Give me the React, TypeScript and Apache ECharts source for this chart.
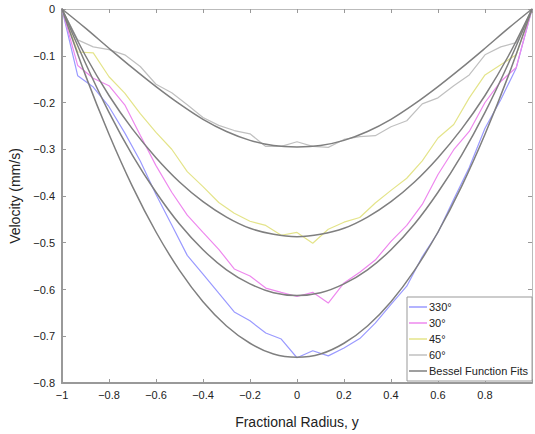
import React, { useEffect, useRef } from "react";
import * as echarts from "echarts";

const radius = [-1, -0.933, -0.867, -0.8, -0.733, -0.667, -0.6, -0.533, -0.467, -0.4, -0.333, -0.267, -0.2, -0.133, -0.067, 0, 0.067, 0.133, 0.2, 0.267, 0.333, 0.4, 0.467, 0.533, 0.6, 0.667, 0.733, 0.8, 0.867, 0.933, 1];

const v330 = [0, -0.143, -0.167, -0.209, -0.265, -0.325, -0.397, -0.462, -0.527, -0.567, -0.608, -0.648, -0.667, -0.693, -0.706, -0.746, -0.731, -0.742, -0.725, -0.705, -0.672, -0.632, -0.593, -0.53, -0.478, -0.407, -0.339, -0.255, -0.194, -0.126, 0];
const v30 = [0, -0.121, -0.148, -0.164, -0.205, -0.27, -0.335, -0.392, -0.441, -0.478, -0.514, -0.556, -0.571, -0.597, -0.606, -0.615, -0.606, -0.629, -0.586, -0.563, -0.537, -0.497, -0.463, -0.418, -0.354, -0.301, -0.262, -0.2, -0.155, -0.125, 0];
const v45 = [0, -0.092, -0.094, -0.145, -0.18, -0.224, -0.264, -0.3, -0.348, -0.38, -0.414, -0.437, -0.454, -0.463, -0.484, -0.478, -0.501, -0.471, -0.456, -0.446, -0.415, -0.388, -0.362, -0.325, -0.276, -0.247, -0.19, -0.141, -0.119, -0.098, 0];
const v60 = [0, -0.066, -0.081, -0.087, -0.098, -0.123, -0.161, -0.179, -0.205, -0.232, -0.249, -0.26, -0.267, -0.294, -0.294, -0.284, -0.294, -0.296, -0.279, -0.273, -0.271, -0.252, -0.239, -0.203, -0.19, -0.164, -0.141, -0.098, -0.081, -0.072, 0];

const fitRadius = [-1, -0.9, -0.8, -0.7, -0.6, -0.5, -0.4, -0.3, -0.2, -0.1, 0, 0.1, 0.2, 0.3, 0.4, 0.5, 0.6, 0.7, 0.8, 0.9, 1];
const fit330 = [0, -0.142, -0.268, -0.38, -0.477, -0.559, -0.626, -0.678, -0.715, -0.738, -0.745, -0.738, -0.715, -0.678, -0.626, -0.559, -0.477, -0.38, -0.268, -0.142, 0];
const fit30 = [0, -0.116, -0.221, -0.313, -0.392, -0.46, -0.515, -0.558, -0.588, -0.607, -0.613, -0.607, -0.588, -0.558, -0.515, -0.46, -0.392, -0.313, -0.221, -0.116, 0];
const fit45 = [0, -0.1, -0.185, -0.257, -0.318, -0.37, -0.412, -0.445, -0.469, -0.482, -0.487, -0.482, -0.469, -0.445, -0.412, -0.37, -0.318, -0.257, -0.185, -0.1, 0];
const fit60 = [0, -0.041, -0.084, -0.126, -0.166, -0.203, -0.236, -0.262, -0.281, -0.292, -0.295, -0.292, -0.281, -0.262, -0.236, -0.203, -0.166, -0.126, -0.084, -0.041, 0];

const seriesNames = ["330°", "30°", "45°", "60°"];
const seriesColors = ["#9a9aff", "#ee88ee", "#e4e48a", "#c0c0c0"];
const fitName = "Bessel Function Fits";
const fitColor = "#7f7f7f";

const FONT = "Liberation Sans, Arial, sans-serif";

const fmt = (v: number, hideOne: boolean) => {
  const r = Math.round(v * 10) / 10;
  if (hideOne && r === 1) return "";
  if (r === 0) return "0";
  return (r < 0 ? "\u2212" : "") + String(Math.abs(r));
};

export default function App() {
  const ref = useRef<HTMLDivElement>(null);
  useEffect(() => {
    if (!ref.current) return;
    const chart = echarts.init(ref.current, undefined, { renderer: "svg" });
    const dataSets = [v330, v30, v45, v60];
    const fits = [fit330, fit30, fit45, fit60];
    const dataSeries = dataSets.map((arr, k) => ({
      type: "line",
      name: seriesNames[k],
      data: radius.map((x, i) => [x, arr[i]]),
      symbol: "none",
      lineStyle: { color: seriesColors[k], width: 1.2 },
      itemStyle: { color: seriesColors[k] },
      z: 2,
    }));
    const fitSeries = fits.map((arr) => ({
      type: "line",
      name: fitName,
      data: fitRadius.map((x, i) => [x, arr[i]]),
      symbol: "none",
      smooth: 0.35,
      lineStyle: { color: fitColor, width: 1.5 },
      itemStyle: { color: fitColor },
      z: 3,
    }));
    const axisCommon = {
      type: "value",
      splitLine: { show: false },
    };
    chart.setOption({
      animation: false,
      backgroundColor: "#fff",
      grid: { left: 62, right: 1, top: 9, bottom: 50 },
      legend: {
        data: [...seriesNames, fitName],
        orient: "vertical",
        left: 407,
        top: 297,
        icon: "rect",
        itemWidth: 18,
        itemHeight: 1.5,
        itemGap: 4,
        padding: [4, 4, 4, 2],
        borderColor: "#999",
        borderWidth: 1,
        borderRadius: 0,
        backgroundColor: "#fff",
        textStyle: { fontSize: 11, lineHeight: 12, fontFamily: FONT, color: "#222", padding: [0, 0, 0, -3] },
      },
      xAxis: [
        {
          ...axisCommon,
          min: -1,
          max: 1,
          interval: 0.2,
          position: "bottom",
          axisLine: { onZero: false, lineStyle: { color: "#999", width: 2 } },
          axisTick: { inside: true, length: 4, lineStyle: { color: "#999" } },
          axisLabel: { formatter: (v: number) => fmt(v, true), fontSize: 11, fontFamily: FONT, color: "#222", margin: 6 },
          name: "Fractional Radius, y",
          nameLocation: "middle",
          nameGap: 32,
          nameTextStyle: { fontSize: 14, fontFamily: FONT, color: "#222" },
        },
        {
          ...axisCommon,
          min: -1,
          max: 1,
          interval: 0.2,
          position: "top",
          axisLine: { onZero: false, lineStyle: { color: "#bbb", width: 1 } },
          axisTick: { inside: true, length: 4, lineStyle: { color: "#999" } },
          axisLabel: { show: false },
        },
      ],
      yAxis: [
        {
          ...axisCommon,
          min: -0.8,
          max: 0,
          interval: 0.1,
          position: "left",
          axisLine: { onZero: false, lineStyle: { color: "#999", width: 2 } },
          axisTick: { inside: true, length: 4, lineStyle: { color: "#999" } },
          axisLabel: { formatter: (v: number) => fmt(v, false), fontSize: 11, fontFamily: FONT, color: "#222", margin: 7 },
          name: "Velocity (mm/s)",
          nameLocation: "middle",
          nameGap: 31,
          nameTextStyle: { fontSize: 14, fontFamily: FONT, color: "#222" },
        },
        {
          ...axisCommon,
          min: -0.8,
          max: 0,
          interval: 0.1,
          position: "right",
          axisLine: { onZero: false, lineStyle: { color: "#bbb", width: 1 } },
          axisTick: { inside: true, length: 4, lineStyle: { color: "#999" } },
          axisLabel: { show: false },
        },
      ],
      series: [...dataSeries, ...fitSeries],
    });
    return () => chart.dispose();
  }, []);
  return (
    <div
      ref={ref}
      style={{ position: "absolute", left: 0, top: 0, width: 535, height: 434 }}
    />
  );
}
